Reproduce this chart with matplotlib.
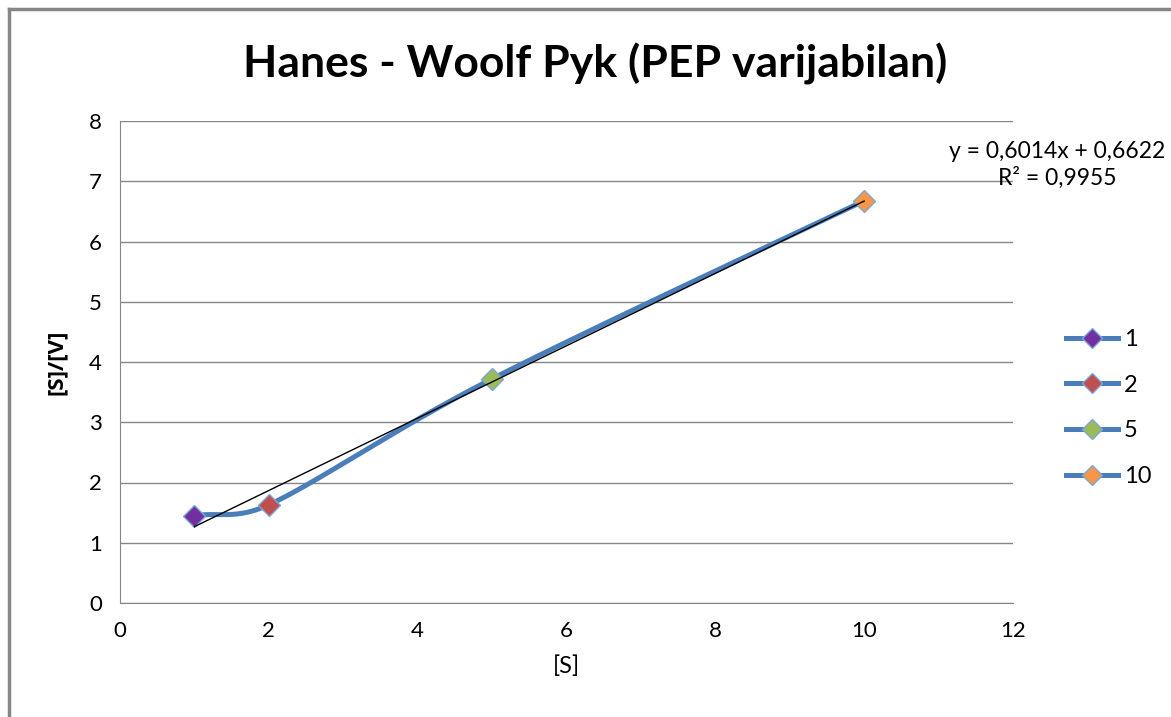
import numpy as np
import matplotlib.pyplot as plt
from matplotlib.lines import Line2D

# podaci
s = [1, 2, 5, 10]
s_v = [1.45, 1.63, 3.72, 6.675]
labels = ['1', '2', '5', '10']
boje = ['#7030A0', '#C0504D', '#9BBB59', '#F79646']
linija = '#4A7EBB'

plt.rcParams['font.family'] = ['Lato', 'DejaVu Sans']

W, H = 1171, 717
fig = plt.figure(figsize=(W / 100, H / 100), dpi=100)

# okvir grafikona (samo lijevi i gornji rub se vide)
fig.add_artist(Line2D([9 / W, 9 / W], [0, 1 - 9 / H], color='#868686', lw=2.5))
fig.add_artist(Line2D([9 / W, 1], [1 - 9 / H, 1 - 9 / H], color='#868686', lw=2.5))

ax = fig.add_axes([120 / W, (H - 603) / H, 893 / W, 482 / H])
ax.set_xlim(0, 12)
ax.set_ylim(0, 8)
ax.set_xticks(range(0, 13, 2))
ax.set_yticks(range(0, 9))
for sp in ['top', 'right']:
    ax.spines[sp].set_visible(False)
for sp in ['left', 'bottom']:
    ax.spines[sp].set_color('#868686')
ax.tick_params(length=0, labelsize=16, pad=13)
ax.grid(axis='y', color='#868686', lw=1)
ax.set_axisbelow(True)

# zaglađena linija (Bezier kao u Excelu)
sx, sy = 893 / 12, 482 / 8
P = np.column_stack([np.array(s) * sx, np.array(s_v) * sy])
t = np.linspace(0, 1, 60)[:, None]
krivulja = []
for i in range(len(P) - 1):
    p1, p2 = P[i], P[i + 1]
    p0 = P[i - 1] if i > 0 else p1
    p3 = P[i + 2] if i + 2 < len(P) else p2
    c1 = p1 + (p2 - p0) / 6
    c2 = p2 - (p3 - p1) / 6
    if i == 0:
        c1 = p1 + (p2 - p1) / 3
        c2 = p2 - (p3 - p1) / 9
    b = (1 - t) ** 3 * p1 + 3 * (1 - t) ** 2 * t * c1 + 3 * (1 - t) * t ** 2 * c2 + t ** 3 * p2
    krivulja.append(b)
krivulja = np.vstack(krivulja)
ax.plot(krivulja[:, 0] / sx, krivulja[:, 1] / sy, color=linija, lw=3.6, solid_capstyle='round', zorder=3)

for xi, yi, c in zip(s, s_v, boje):
    ax.plot(xi, yi, marker='D', ms=11.5, color=c, mec='#7EA6D8', mew=1, zorder=4)

# linearni trend
k, n = np.polyfit(s, s_v, 1)
xt = np.array([s[0], s[-1]])
ax.plot(xt, k * xt + n, color='black', lw=1, zorder=5)
fig.text(1057 / W, 1 - 165 / H, 'y = 0,6014x + 0,6622\nR² = 0,9955', ha='center', va='center',
         fontsize=16.5, linespacing=1.25)

ax.set_xlabel('[S]', fontsize=17, labelpad=10)
ax.set_ylabel('[S]/[V]', fontsize=16, labelpad=16, family=['Open Sans', 'DejaVu Sans'], weight='bold')
fig.text(595 / W, 1 - 64 / H, 'Hanes - Woolf Pyk (PEP varijabilan)', ha='center', va='center',
         fontsize=32, fontweight='bold')

handles = [Line2D([0], [0], color=linija, lw=3.6, marker='D', ms=10, mfc=c, mec='#7EA6D8', mew=1)
           for c in boje]
fig.legend(handles, labels, loc='center left', bbox_to_anchor=(1045 / W, 1 - 408 / H), frameon=False,
           fontsize=17, handlelength=2.2, labelspacing=1.05, handletextpad=0.25)

fig.savefig('out.png', dpi=100)
